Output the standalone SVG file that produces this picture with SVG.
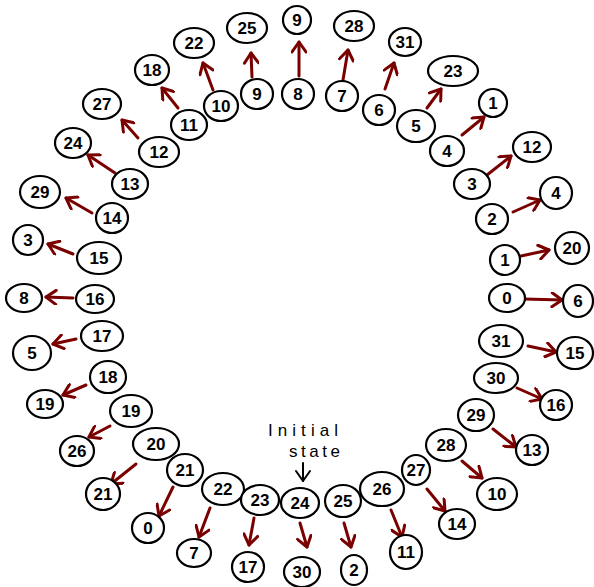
<svg xmlns="http://www.w3.org/2000/svg" width="594" height="587" viewBox="0 0 594 587">
<style>
.n ellipse{fill:#fff;stroke:#000;stroke-width:2.2}
.n text{font-family:"Liberation Sans",Arial,sans-serif;font-size:17px;font-weight:bold;fill:#000;text-anchor:middle;dominant-baseline:central}
.c line{stroke:#7a0000;stroke-width:3;stroke-linecap:round;marker-end:url(#ah)}
.lbl{font-family:"Liberation Sans",Arial,sans-serif;font-size:17px;fill:#000}
</style>
<defs>
<marker id="ah" markerUnits="userSpaceOnUse" viewBox="0 0 16 16" refX="13" refY="8" markerWidth="16" markerHeight="16" orient="auto">
<path d="M3,1 L13,8 L3,15" fill="none" stroke="#7a0000" stroke-width="3" stroke-linecap="round" stroke-linejoin="round"/>
</marker>
<marker id="ahb" markerUnits="userSpaceOnUse" viewBox="0 0 16 16" refX="13" refY="8" markerWidth="16" markerHeight="16" orient="auto">
<path d="M3,1 L13,8 L3,15" fill="none" stroke="#000" stroke-width="2" stroke-linecap="round" stroke-linejoin="round"/>
</marker>
</defs>
<rect width="594" height="587" fill="#fff"/>
<g id="connectors" class="c">
<line x1="524" y1="299" x2="562" y2="300"/>
<line x1="521" y1="256" x2="549" y2="250"/>
<line x1="513" y1="212" x2="540" y2="200"/>
<line x1="487" y1="175" x2="511" y2="156"/>
<line x1="462" y1="135" x2="484" y2="117"/>
<line x1="427" y1="108" x2="441" y2="89"/>
<line x1="385" y1="89" x2="394" y2="63"/>
<line x1="343" y1="80" x2="348" y2="50"/>
<line x1="299" y1="76" x2="299" y2="42"/>
<line x1="252" y1="77" x2="251" y2="53"/>
<line x1="213" y1="90" x2="203" y2="63"/>
<line x1="178" y1="108" x2="162" y2="88"/>
<line x1="138" y1="138" x2="122" y2="120"/>
<line x1="115" y1="173" x2="88" y2="155"/>
<line x1="92" y1="213" x2="66" y2="198"/>
<line x1="73" y1="254" x2="48" y2="244"/>
<line x1="73" y1="298" x2="46" y2="297"/>
<line x1="76" y1="339" x2="53" y2="344"/>
<line x1="86" y1="385" x2="63" y2="395"/>
<line x1="110" y1="426" x2="89" y2="437"/>
<line x1="136" y1="464" x2="111" y2="484"/>
<line x1="173" y1="487" x2="159" y2="516"/>
<line x1="210" y1="508" x2="199" y2="537"/>
<line x1="254" y1="518" x2="249" y2="545"/>
<line x1="300" y1="523" x2="307" y2="547"/>
<line x1="344" y1="523" x2="351" y2="547"/>
<line x1="391" y1="510" x2="402" y2="537"/>
<line x1="427" y1="489" x2="445" y2="511"/>
<line x1="462" y1="461" x2="482" y2="478"/>
<line x1="493" y1="429" x2="516" y2="447"/>
<line x1="517" y1="388" x2="542" y2="399"/>
<line x1="528" y1="346" x2="556" y2="352"/>
<line x1="303" y1="463" x2="303" y2="481" style="stroke:#000;stroke-width:2;marker-end:url(#ahb)"/>
</g>
<g id="label-initial-state">
<text class="lbl" x="268" y="436" textLength="70" lengthAdjust="spacing">Initial</text>
<text class="lbl" x="289" y="457" textLength="51" lengthAdjust="spacing">state</text>
</g>
<g id="in0" class="n"><ellipse cx="507" cy="298" rx="18" ry="14"/><text x="507" y="298">0</text></g>
<g id="in1" class="n"><ellipse cx="505" cy="260" rx="15" ry="15"/><text x="505" y="260">1</text></g>
<g id="in2" class="n"><ellipse cx="492" cy="219" rx="16" ry="15"/><text x="492" y="219">2</text></g>
<g id="in3" class="n"><ellipse cx="472" cy="184" rx="18" ry="15"/><text x="472" y="184">3</text></g>
<g id="in4" class="n"><ellipse cx="447" cy="151" rx="17" ry="15"/><text x="447" y="151">4</text></g>
<g id="in5" class="n"><ellipse cx="416" cy="126" rx="19" ry="16"/><text x="416" y="126">5</text></g>
<g id="in6" class="n"><ellipse cx="379" cy="110" rx="16" ry="15"/><text x="379" y="110">6</text></g>
<g id="in7" class="n"><ellipse cx="342" cy="96" rx="16" ry="15"/><text x="342" y="96">7</text></g>
<g id="in8" class="n"><ellipse cx="298" cy="94" rx="16" ry="15"/><text x="298" y="94">8</text></g>
<g id="in9" class="n"><ellipse cx="257" cy="94" rx="16" ry="15"/><text x="257" y="94">9</text></g>
<g id="in10" class="n"><ellipse cx="221" cy="106" rx="17" ry="15"/><text x="221" y="106">10</text></g>
<g id="in11" class="n"><ellipse cx="189" cy="125" rx="18" ry="15"/><text x="189" y="125">11</text></g>
<g id="in12" class="n"><ellipse cx="159" cy="152" rx="20" ry="15"/><text x="159" y="152">12</text></g>
<g id="in13" class="n"><ellipse cx="130" cy="184" rx="18" ry="15"/><text x="130" y="184">13</text></g>
<g id="in14" class="n"><ellipse cx="112" cy="218" rx="16" ry="15"/><text x="112" y="218">14</text></g>
<g id="in15" class="n"><ellipse cx="99" cy="258" rx="22" ry="16"/><text x="99" y="258">15</text></g>
<g id="in16" class="n"><ellipse cx="95" cy="299" rx="19" ry="14"/><text x="95" y="299">16</text></g>
<g id="in17" class="n"><ellipse cx="102" cy="336" rx="21" ry="15"/><text x="102" y="336">17</text></g>
<g id="in18" class="n"><ellipse cx="108" cy="377" rx="18" ry="16"/><text x="108" y="377">18</text></g>
<g id="in19" class="n"><ellipse cx="131" cy="411" rx="21" ry="16"/><text x="131" y="411">19</text></g>
<g id="in20" class="n"><ellipse cx="156" cy="444" rx="23" ry="16"/><text x="156" y="444">20</text></g>
<g id="in21" class="n"><ellipse cx="185" cy="470" rx="18" ry="16"/><text x="185" y="470">21</text></g>
<g id="in22" class="n"><ellipse cx="223" cy="489" rx="21" ry="16"/><text x="223" y="489">22</text></g>
<g id="in23" class="n"><ellipse cx="260" cy="500" rx="19" ry="15"/><text x="260" y="500">23</text></g>
<g id="in24" class="n"><ellipse cx="300" cy="503" rx="19" ry="15"/><text x="300" y="503">24</text></g>
<g id="in25" class="n"><ellipse cx="343" cy="501" rx="18" ry="16"/><text x="343" y="501">25</text></g>
<g id="in26" class="n"><ellipse cx="382" cy="489" rx="22" ry="17"/><text x="382" y="489">26</text></g>
<g id="in27" class="n"><ellipse cx="416" cy="470" rx="14" ry="15"/><text x="416" y="470">27</text></g>
<g id="in28" class="n"><ellipse cx="446" cy="445" rx="20" ry="16"/><text x="446" y="445">28</text></g>
<g id="in29" class="n"><ellipse cx="476" cy="415" rx="18" ry="16"/><text x="476" y="415">29</text></g>
<g id="in30" class="n"><ellipse cx="496" cy="378" rx="22" ry="15"/><text x="496" y="378">30</text></g>
<g id="in31" class="n"><ellipse cx="501" cy="341" rx="22" ry="16"/><text x="501" y="341">31</text></g>
<g id="out0" class="n"><ellipse cx="578" cy="301" rx="15" ry="16"/><text x="578" y="301">6</text></g>
<g id="out1" class="n"><ellipse cx="572" cy="248" rx="17" ry="16"/><text x="572" y="248">20</text></g>
<g id="out2" class="n"><ellipse cx="556" cy="193" rx="16" ry="16"/><text x="556" y="193">4</text></g>
<g id="out3" class="n"><ellipse cx="532" cy="147" rx="19" ry="15"/><text x="532" y="147">12</text></g>
<g id="out4" class="n"><ellipse cx="493" cy="103" rx="14" ry="14"/><text x="493" y="103">1</text></g>
<g id="out5" class="n"><ellipse cx="453" cy="71" rx="25" ry="15"/><text x="453" y="71">23</text></g>
<g id="out6" class="n"><ellipse cx="405" cy="42" rx="16" ry="14"/><text x="405" y="42">31</text></g>
<g id="out7" class="n"><ellipse cx="354" cy="26" rx="20" ry="15"/><text x="354" y="26">28</text></g>
<g id="out8" class="n"><ellipse cx="297" cy="20" rx="14" ry="14"/><text x="297" y="20">9</text></g>
<g id="out9" class="n"><ellipse cx="247" cy="28" rx="20" ry="15"/><text x="247" y="28">25</text></g>
<g id="out10" class="n"><ellipse cx="194" cy="43" rx="20" ry="15"/><text x="194" y="43">22</text></g>
<g id="out11" class="n"><ellipse cx="152" cy="70" rx="17" ry="15"/><text x="152" y="70">18</text></g>
<g id="out12" class="n"><ellipse cx="102" cy="104" rx="19" ry="15"/><text x="102" y="104">27</text></g>
<g id="out13" class="n"><ellipse cx="73" cy="143" rx="18" ry="15"/><text x="73" y="143">24</text></g>
<g id="out14" class="n"><ellipse cx="40" cy="192" rx="20" ry="16"/><text x="40" y="192">29</text></g>
<g id="out15" class="n"><ellipse cx="28" cy="240" rx="15" ry="15"/><text x="28" y="240">3</text></g>
<g id="out16" class="n"><ellipse cx="24" cy="298" rx="18" ry="14"/><text x="24" y="298">8</text></g>
<g id="out17" class="n"><ellipse cx="32" cy="353" rx="19" ry="17"/><text x="32" y="353">5</text></g>
<g id="out18" class="n"><ellipse cx="45" cy="404" rx="18" ry="14"/><text x="45" y="404">19</text></g>
<g id="out19" class="n"><ellipse cx="77" cy="451" rx="17" ry="15"/><text x="77" y="451">26</text></g>
<g id="out20" class="n"><ellipse cx="103" cy="494" rx="17" ry="16"/><text x="103" y="494">21</text></g>
<g id="out21" class="n"><ellipse cx="148" cy="528" rx="16" ry="15"/><text x="148" y="528">0</text></g>
<g id="out22" class="n"><ellipse cx="194" cy="553" rx="17" ry="14"/><text x="194" y="553">7</text></g>
<g id="out23" class="n"><ellipse cx="248" cy="567" rx="16" ry="15"/><text x="248" y="567">17</text></g>
<g id="out24" class="n"><ellipse cx="302" cy="572" rx="18" ry="15"/><text x="302" y="572">30</text></g>
<g id="out25" class="n"><ellipse cx="354" cy="570" rx="13" ry="15"/><text x="354" y="570">2</text></g>
<g id="out26" class="n"><ellipse cx="406" cy="552" rx="16" ry="17"/><text x="406" y="552">11</text></g>
<g id="out27" class="n"><ellipse cx="457" cy="524" rx="18" ry="15"/><text x="457" y="524">14</text></g>
<g id="out28" class="n"><ellipse cx="497" cy="494" rx="20" ry="16"/><text x="497" y="494">10</text></g>
<g id="out29" class="n"><ellipse cx="532" cy="450" rx="16" ry="15"/><text x="532" y="450">13</text></g>
<g id="out30" class="n"><ellipse cx="556" cy="405" rx="16" ry="15"/><text x="556" y="405">16</text></g>
<g id="out31" class="n"><ellipse cx="575" cy="353" rx="18" ry="16"/><text x="575" y="353">15</text></g>
</svg>
